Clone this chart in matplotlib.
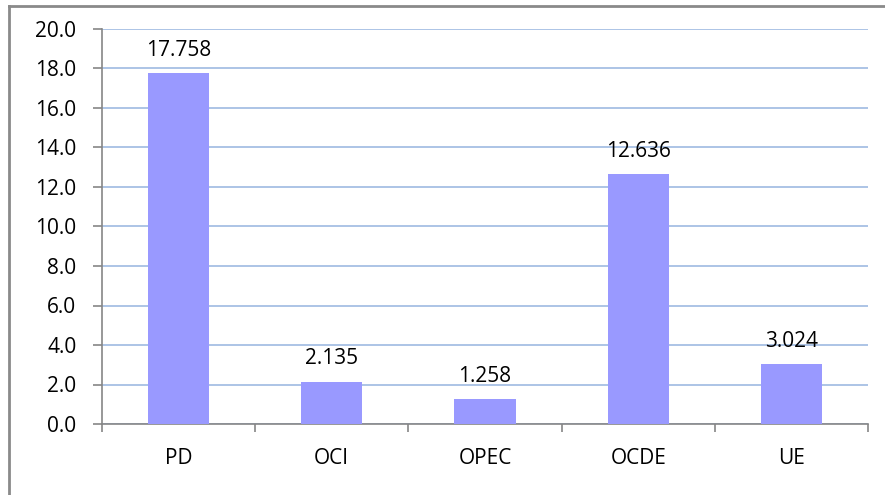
import numpy as np
import matplotlib
matplotlib.use("Agg")
from matplotlib import pyplot as plt
from matplotlib.lines import Line2D

# chart data
categories = ["PD", "OCI", "OPEC", "OCDE", "UE"]
values = [17.758, 2.135, 1.258, 12.636, 3.024]
value_labels = ["17.758", "2.135", "1.258", "12.636", "3.024"]
y_ticks = [0, 2, 4, 6, 8, 10, 12, 14, 16, 18, 20]

plt.rcParams["font.family"] = ["Open Sans", "DejaVu Sans"]
fs = 15

fig = plt.figure(figsize=(8.85, 4.95), dpi=100)
ax = fig.add_axes([102 / 885, 1 - 424 / 495, 766 / 885, 395 / 495])

# outer chart border (only top and left edges are visible)
bx = 8.5 / 885
by = 1 - 5.5 / 495
fig.lines.append(Line2D([bx, 1.0], [by, by], transform=fig.transFigure,
                        color="#8a8a8a", linewidth=2))
fig.lines.append(Line2D([bx, bx], [0.0, by], transform=fig.transFigure,
                        color="#8a8a8a", linewidth=2))

x = np.arange(len(categories))
ax.bar(x, values, width=0.4, color="#9999ff", zorder=3)

for xi, v, lab in zip(x, values, value_labels):
    ax.annotate(lab, (xi, v), xytext=(0, 9), textcoords="offset points",
                ha="center", va="bottom", fontsize=fs)

ax.set_xlim(-0.5, len(categories) - 0.5)
ax.set_ylim(0, 20)
ax.set_yticks(y_ticks)
ax.set_yticklabels(["%.1f" % t for t in y_ticks], fontsize=fs)
ax.yaxis.grid(True, color="#a6bfe4", linewidth=1.3, zorder=0)

# categories between the ticks
ax.set_xticks(np.arange(-0.5, len(categories), 1.0))
ax.set_xticklabels([])
ax.set_xticks(x, minor=True)
ax.set_xticklabels(categories, minor=True, fontsize=fs)
ax.tick_params(axis="x", which="minor", length=0, pad=17)
ax.tick_params(axis="x", which="major", length=6, color="#868686", width=1.2)
ax.tick_params(axis="y", length=6.5, color="#868686", width=1.2, pad=12)

for s in ["top", "right"]:
    ax.spines[s].set_visible(False)
for s in ["left", "bottom"]:
    ax.spines[s].set_color("#868686")
    ax.spines[s].set_linewidth(1.2)

fig.savefig("out.png", dpi=100)
